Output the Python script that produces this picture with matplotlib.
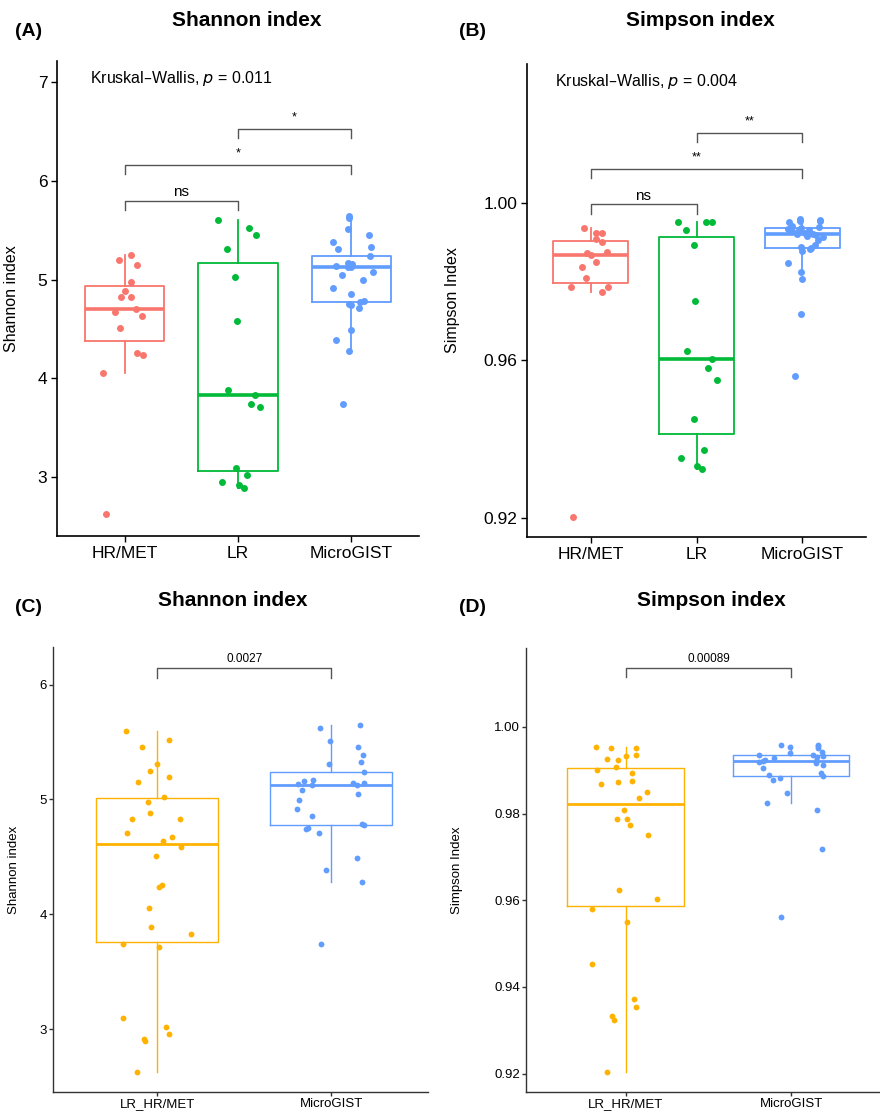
import numpy as np
import matplotlib
matplotlib.use("Agg")
import matplotlib.pyplot as plt

plt.rcParams['font.family'] = ['Liberation Sans', 'DejaVu Sans']

# ---- data ----
groups3 = ["HR/MET", "LR", "MicroGIST"]
groups2 = ["LR_HR/MET", "MicroGIST"]

shannon_hr = [5.25, 5.195, 5.15, 4.98, 4.885, 4.83, 4.83, 4.705, 4.675, 4.635,
              4.51, 4.256, 4.236, 4.057, 2.625]
shannon_lr = [5.60, 5.52, 5.455, 5.31, 5.023, 4.584, 3.888, 3.828, 3.74, 3.716,
              3.094, 3.023, 2.956, 2.919, 2.895]
shannon_mg = [5.648, 5.626, 5.509, 5.457, 5.385, 5.327, 5.312, 5.239, 5.167, 5.164,
              5.144, 5.144, 5.138, 5.124, 5.124, 5.080, 5.048, 4.999, 4.917, 4.856,
              4.784, 4.775, 4.752, 4.747, 4.712, 4.488, 4.386, 4.282, 3.742]

simpson_hr = [0.99363, 0.99236, 0.9925, 0.99083, 0.99006, 0.98726, 0.9869, 0.9876,
              0.9850, 0.98369, 0.9809, 0.97867, 0.97875, 0.97748, 0.9203]
simpson_lr = [0.99531, 0.99516, 0.99516, 0.99327, 0.9893, 0.97503, 0.96245, 0.96033,
              0.95804, 0.95498, 0.94522, 0.93722, 0.93529, 0.93325, 0.93238]
simpson_mg = [0.99593, 0.99584, 0.99550, 0.99538, 0.99515, 0.99422, 0.99399, 0.99362,
              0.99346, 0.99323, 0.99307, 0.99293, 0.99247, 0.99215, 0.99207, 0.99185,
              0.99177, 0.9913, 0.99062, 0.98946, 0.98884, 0.98868, 0.98831, 0.98776,
              0.98485, 0.98254, 0.98083, 0.97177, 0.95607]

# jitter offsets (category units), as seen in each panel
jit_a_hr = [0.055, -0.056, 0.105, 0.05, 0.003, -0.038, 0.055, 0.102, -0.083, 0.155,
            -0.044, 0.111, 0.164, -0.19, -0.167]
jit_a_lr = [-0.173, 0.097, 0.158, -0.097, -0.026, -0.012, -0.085, 0.15, 0.117, 0.196,
            -0.02, 0.076, -0.138, 0.006, 0.053]
jit_a_mg = [-0.023, -0.023, -0.026, 0.161, -0.158, 0.176, -0.12, 0.167, -0.032, 0.006,
            -0.018, -0.01, -0.135, -0.032, 0.0, 0.193, -0.082, 0.106, -0.161, 0.0,
            0.114, 0.079, -0.023, -0.003, 0.07, 0.003, -0.132, -0.015, -0.073]

jit_b_hr = [-0.06, 0.05, 0.104, 0.05, 0.104, -0.038, 0.0, 0.154, 0.053, -0.082,
            -0.041, -0.189, 0.166, 0.11, -0.167]
jit_b_lr = [-0.179, 0.085, 0.151, -0.1, -0.028, -0.016, -0.091, 0.145, 0.11, 0.192,
            -0.025, 0.072, -0.142, 0.0, 0.05]
jit_b_mg = [-0.025, 0.17, -0.02, 0.17, -0.13, -0.1, 0.16, -0.015, -0.14, -0.03,
            0.06, -0.1, 0.02, 0.1, -0.05, 0.13, 0.04, 0.19, 0.15, 0.116,
            -0.01, 0.08, 0.069, -0.003, -0.135, -0.009, 0.0, -0.016, -0.072]

jit_c_hr = [-0.044, 0.066, -0.113, -0.055, -0.044, -0.147, 0.129, -0.173, 0.085, 0.035,
            -0.008, 0.029, 0.01, -0.05, -0.115]
jit_c_lr = [-0.18, 0.066, -0.09, -0.004, 0.04, 0.136, -0.036, 0.192, -0.2, 0.01,
            -0.2, 0.05, 0.067, -0.078, -0.069]
jit_c_mg = [0.163, -0.065, -0.008, 0.157, 0.182, 0.173, -0.01, 0.186, -0.105, -0.159,
            0.128, 0.186, -0.192, -0.109, 0.148, -0.167, 0.154, -0.184, -0.194, -0.111,
            0.18, 0.19, -0.136, -0.146, -0.069, 0.151, -0.027, 0.18, -0.059]

jit_d_hr = [0.066, -0.044, -0.11, -0.056, -0.17, -0.044, -0.148, 0.036, 0.131, 0.084,
            -0.008, 0.01, -0.05, 0.028, -0.114]
jit_d_lr = [-0.178, -0.09, 0.066, 0.0, 0.04, 0.137, -0.038, 0.191, -0.2, 0.01,
            -0.2, 0.05, 0.066, -0.08, -0.07]
jit_d_mg = [-0.064, 0.163, 0.16, -0.008, 0.159, 0.183, -0.008, 0.129, -0.195, 0.189,
            0.153, -0.108, -0.158, -0.17, 0.15, -0.193, 0.149, 0.189, -0.169, 0.179,
            -0.134, 0.189, -0.068, -0.112, -0.028, -0.148, 0.153, 0.183, -0.06]

RED, GREEN, BLUE, ORANGE = "#F8766D", "#00BA38", "#619CFF", "#FFB300"

fig = plt.figure(figsize=(8.8, 11.11), dpi=100)


def px_axes(l, t, r, b):
    return fig.add_axes([l / 880, 1 - b / 1111, (r - l) / 880, (b - t) / 1111])


def panel(ax, data, jits, colors, names, ylim, xlim, yticks, ytl, ylabel, ylab_x,
          small=False):
    pos = list(range(len(data)))
    bp = ax.boxplot(data, positions=pos, widths=0.7, showfliers=False,
                    showcaps=False, whis=1.5)
    lw = 1.0 if small else 1.3
    for i, c in enumerate(colors):
        bp['boxes'][i].set(color=c, linewidth=lw)
        bp['medians'][i].set(color=c, linewidth=lw * 2)
        for w in bp['whiskers'][2 * i:2 * i + 2]:
            w.set(color=c, linewidth=lw)
    ms = 4.2 if small else 5.0
    for i, (vals, jit, c) in enumerate(zip(data, jits, colors)):
        ax.plot(np.array(jit) + i, vals, 'o', color=c, ms=ms, mec='none', zorder=3)
    ax.set_xlim(*xlim)
    ax.set_ylim(*ylim)
    ax.set_xticks(pos)
    ax.set_yticks(yticks)
    ax.set_yticklabels(ytl)
    fs = 9.5 if small else 12.5
    ax.set_xticklabels(names, fontsize=fs)
    for t in ax.get_yticklabels():
        t.set_fontsize(fs)
    ax.set_ylabel(ylabel, fontsize=9.5 if small else 11.5)
    ax.yaxis.set_label_coords(ylab_x, 0.5)
    for s in ['top', 'right']:
        ax.spines[s].set_visible(False)
    sc = '#333333' if small else 'black'
    for s in ['left', 'bottom']:
        ax.spines[s].set_color(sc)
        ax.spines[s].set_linewidth(1.0 if small else 1.2)
    if small:
        ax.tick_params(length=3, width=1.0, color=sc, labelcolor='black', pad=1.5)
    else:
        ax.tick_params(length=4, width=1.0, color=sc, labelcolor='black', pad=3)


def bracket(ax, x1, x2, y, tick, label, fs, gap):
    ax.plot([x1, x1, x2, x2], [y - tick, y, y, y - tick], color='#555555', lw=1.0)
    ax.text((x1 + x2) / 2, y + gap, label, ha='center', va='center', fontsize=fs,
            color='black')


# ---- panel A ----
axA = px_axes(57, 61, 419, 536)
panel(axA, [shannon_hr, shannon_lr, shannon_mg], [jit_a_hr, jit_a_lr, jit_a_mg],
      [RED, GREEN, BLUE], groups3, (2.405, 7.215), (-0.6, 2.6),
      [3, 4, 5, 6, 7], ['3', '4', '5', '6', '7'], "Shannon index", -0.105)
axA.text(-0.31, 7.04, "Kruskal\u2013Wallis, $p$ = 0.011", ha='left', va='center',
         fontsize=11.5)
bracket(axA, 1, 2, 6.526, 0.09, "*", 9, 0.12)
bracket(axA, 0, 2, 6.164, 0.09, "*", 9, 0.12)
bracket(axA, 0, 1, 5.80, 0.09, "ns", 11, 0.09)

# ---- panel B ----
axB = px_axes(527, 64, 866, 537)
panel(axB, [simpson_hr, simpson_lr, simpson_mg], [jit_b_hr, jit_b_lr, jit_b_mg],
      [RED, GREEN, BLUE], groups3, (0.9151, 1.0354), (-0.6, 2.6),
      [0.92, 0.96, 1.00], ['0.92', '0.96', '1.00'], "Simpson Index", -0.199)
axB.text(-0.337, 1.031, "Kruskal\u2013Wallis, $p$ = 0.004", ha='left', va='center',
         fontsize=11.5)
bracket(axB, 1, 2, 1.01783, 0.0023, "**", 9, 0.003)
bracket(axB, 0, 2, 1.00866, 0.0023, "**", 9, 0.003)
bracket(axB, 0, 1, 0.99975, 0.0024, "ns", 11, 0.0022)

# ---- panel C ----
axC = px_axes(53, 647, 428, 1092)
panel(axC, [shannon_lr + shannon_hr, shannon_mg],
      [jit_c_lr + jit_c_hr, jit_c_mg], [ORANGE, BLUE], groups2,
      (2.454, 6.327), (-0.6, 1.557), [3, 4, 5, 6], ['3', '4', '5', '6'],
      "Shannon index", -0.089, small=True)
bracket(axC, 0, 1, 6.148, 0.09, "0.0027", 8.5, 0.075)

# ---- panel D ----
axD = px_axes(526, 648, 880, 1092)
panel(axD, [simpson_lr + simpson_hr, simpson_mg],
      [jit_d_lr + jit_d_hr, jit_d_mg], [ORANGE, BLUE], groups2,
      (0.91575, 1.01822), (-0.6, 1.534), [0.92, 0.94, 0.96, 0.98, 1.00],
      ['0.92', '0.94', '0.96', '0.98', '1.00'], "Simpson Index", -0.178, small=True)
bracket(axD, 0, 1, 1.0137, 0.0022, "0.00089", 8.5, 0.0019)

# ---- titles and panel tags ----
for x, y, s in [(247, 21, "Shannon index"), (700, 21, "Simpson index"),
                (233, 601, "Shannon index"), (711, 601, "Simpson index")]:
    fig.text(x / 880, 1 - y / 1111, s, ha='center', va='center', fontsize=15,
             fontweight='bold')
for x, y, s in [(15, 32, "(A)"), (459, 32, "(B)"), (15, 608, "(C)"), (459, 608, "(D)")]:
    fig.text(x / 880, 1 - y / 1111, s, ha='left', va='center', fontsize=14,
             fontweight='bold')

fig.savefig("out.png", dpi=100)
